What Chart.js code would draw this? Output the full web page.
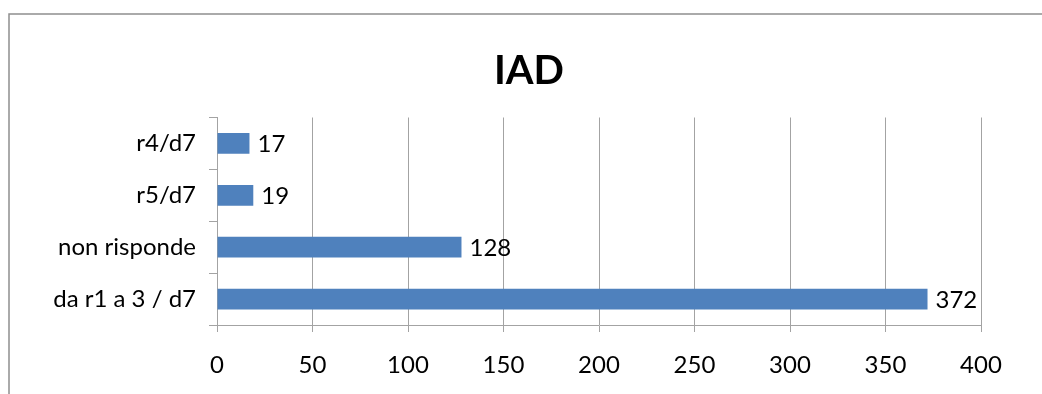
<!DOCTYPE html>
<html>
<head>
<meta charset="utf-8">
<title>IAD</title>
<script src="https://cdn.jsdelivr.net/npm/chart.js@4/dist/chart.umd.min.js"></script>
<style>
  html, body { margin: 0; padding: 0; background: #ffffff; }
  #wrap { position: relative; width: 1042px; height: 394px; }
  canvas { display: block; }
</style>
</head>
<body>
<div id="wrap"><canvas id="c" width="1042" height="394"></canvas></div>
<script>
// Categories (top to bottom) and their counts
const categories = ['r4/d7', 'r5/d7', 'non risponde', 'da r1 a 3 / d7'];
const counts = [17, 19, 128, 372];

// Value axis range
const axisMin = 0;
const axisMax = 400;
const axisStep = 50;

const chartTitle = 'IAD';

const FONT = 'Lato, "Open Sans", sans-serif';
const GRID = '#a3a3a3';
const BAR = '#4f81bd';

// Outer frame of the chart object (top and left edges) and the centred title
const framePlugin = {
  id: 'frame',
  beforeDraw(chart) {
    const ctx = chart.ctx;
    ctx.save();
    ctx.strokeStyle = '#8f8f8f';
    ctx.lineWidth = 1.5;
    ctx.beginPath();
    ctx.moveTo(9, 394);
    ctx.lineTo(9, 14);
    ctx.lineTo(1042, 14);
    ctx.stroke();

    ctx.font = 'bold 40px ' + FONT;
    ctx.fillStyle = '#000000';
    ctx.textAlign = 'center';
    ctx.textBaseline = 'alphabetic';
    ctx.fillText(chartTitle, 529, 84);
    ctx.restore();
  }
};

// Value labels placed just past the end of each bar
const valueLabels = {
  id: 'valueLabels',
  afterDatasetsDraw(chart) {
    const ctx = chart.ctx;
    const meta = chart.getDatasetMeta(0);
    const data = chart.data.datasets[0].data;
    ctx.save();
    ctx.font = '24px ' + FONT;
    ctx.fillStyle = '#000000';
    ctx.textAlign = 'left';
    ctx.textBaseline = 'middle';
    meta.data.forEach((bar, i) => {
      ctx.fillText(String(data[i]), bar.x + 8, bar.y + 1);
    });
    ctx.restore();
  }
};

new Chart(document.getElementById('c'), {
  type: 'bar',
  data: {
    labels: categories,
    datasets: [{
      data: counts,
      backgroundColor: BAR,
      borderWidth: 0,
      barPercentage: 0.4,
      categoryPercentage: 1.0
    }]
  },
  options: {
    indexAxis: 'y',
    responsive: false,
    devicePixelRatio: 1,
    animation: false,
    layout: { padding: { left: 0, right: 61, top: 117.5, bottom: 0 } },
    plugins: {
      legend: { display: false },
      tooltip: { enabled: false },
      title: { display: false }
    },
    scales: {
      x: {
        type: 'linear',
        min: axisMin,
        max: axisMax,
        ticks: {
          stepSize: axisStep,
          color: '#000000',
          font: { family: FONT, size: 24 },
          padding: 19
        },
        grid: {
          color: GRID,
          tickColor: GRID,
          tickLength: 7,
          drawTicks: true
        },
        border: { display: true, color: GRID },
        afterFit(scale) { scale.height = 69; }
      },
      y: {
        type: 'category',
        offset: true,
        ticks: {
          color: '#000000',
          font: { family: FONT, size: 24 },
          padding: 13
        },
        grid: {
          offset: true,
          drawOnChartArea: false,
          drawTicks: true,
          tickLength: 8,
          tickColor: GRID
        },
        border: { display: true, color: GRID },
        afterFit(scale) { scale.width = 217; }
      }
    }
  },
  plugins: [framePlugin, valueLabels]
});
</script>
</body>
</html>
